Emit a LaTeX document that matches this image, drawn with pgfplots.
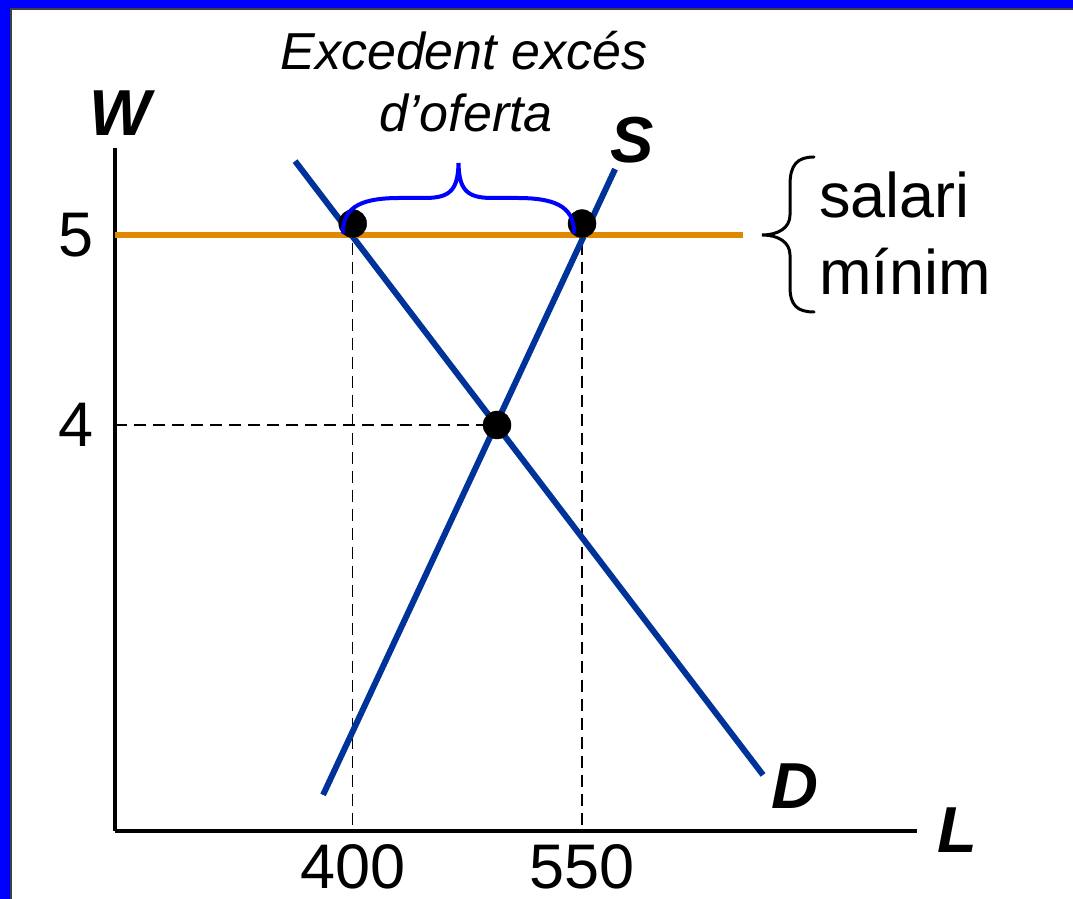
\documentclass[border=0pt]{standalone}
\usepackage{pgfplots}
\pgfplotsset{compat=1.18}
\usepackage{fontspec}
\setmainfont{Liberation Sans}
\definecolor{frameblue}{RGB}{0,0,255}
\definecolor{curveblue}{RGB}{0,51,153}
\definecolor{minorange}{RGB}{224,136,0}
\begin{document}
\begin{tikzpicture}[x=1pt,y=1pt]
\useasboundingbox (0,0) rectangle (1073,899);
\clip (0,0) rectangle (1073,899);
\fill[frameblue] (0,0) rectangle (1073,899);
\filldraw[fill=white, draw=black!75, line width=1.5pt] (11,-20) rectangle (1100,890);
\begin{axis}[at={(115pt,68pt)}, anchor=south west, scale only axis,
  width=802pt, height=683pt,
  xmin=244.5, xmax=769.1, ymin=1.863, ymax=5.458,
  axis lines=left, axis line style={-, line width=3.5pt, black},
  xtick={400,550}, ytick={4,5}, xticklabels={400,550}, yticklabels={4,5},
  major tick length=0pt,
  tick label style={font=\fontsize{63}{75}\selectfont, inner sep=0pt},
  xticklabel style={yshift=-13pt, text depth=0pt},
  yticklabel style={xshift=-21pt},
  clip=false]
\addplot[black, line width=1.3pt, dash pattern=on 12pt off 7pt] coordinates {(244.5,4) (494.4,4)};
\addplot[black, line width=1.3pt, dash pattern=on 12pt off 7pt] coordinates {(400,5.06) (400,1.863)};
\addplot[black, line width=1.3pt, dash pattern=on 12pt off 7pt] coordinates {(550,5.06) (550,1.863)};
\addplot[curveblue, line width=6pt] coordinates {(362.3,5.389) (668.4,2.158)};
\addplot[curveblue, line width=6pt] coordinates {(380.6,2.053) (571.6,5.347)};
\addplot[minorange, line width=6pt] coordinates {(244.5,5) (655.3,5)};
\addplot[only marks, mark=*, mark size=14pt, black] coordinates {(400,5.06) (550,5.06) (494.4,4)};
\end{axis}
% braces
\draw[frameblue, line width=4pt, line cap=round]
  (343,667) .. controls (343,694) and (365,701) .. (400,701) -- (425,701)
  .. controls (450,701) and (458,709) .. (458.5,736)
  .. controls (459,709) and (467,701) .. (492,701) -- (517,701)
  .. controls (552,701) and (574,694) .. (574,667);
\draw[black, line width=3pt, line cap=round]
  (814,742) .. controls (797,742) and (790,734) .. (790,714) -- (790,684)
  .. controls (790,671) and (778,664) .. (762,664)
  .. controls (778,664) and (790,657) .. (790,644) -- (790,612)
  .. controls (790,594) and (797,587) .. (814,587);
% texts
\node[font=\fontsize{52}{62}\selectfont\itshape, anchor=base, inner sep=0pt] at (464,829) {Excedent excés};
\node[font=\fontsize{52}{62}\selectfont\itshape, anchor=base, inner sep=0pt] at (466,767) {d’oferta};
\node[font=\fontsize{65}{78}\selectfont\bfseries\itshape, inner sep=0pt] at (120,786) {W};
\node[font=\fontsize{65}{78}\selectfont\bfseries\itshape, inner sep=0pt] at (632,759) {S};
\node[font=\fontsize{65}{78}\selectfont\bfseries\itshape, inner sep=0pt] at (795,113) {D};
\node[font=\fontsize{65}{78}\selectfont\bfseries\itshape, inner sep=0pt] at (957,69) {L};
\node[font=\fontsize{63}{75}\selectfont, anchor=base west, inner sep=0pt] at (819,681) {salari};
\node[font=\fontsize{63}{75}\selectfont, anchor=base west, inner sep=0pt] at (819,604) {mínim};
\end{tikzpicture}
\end{document}
